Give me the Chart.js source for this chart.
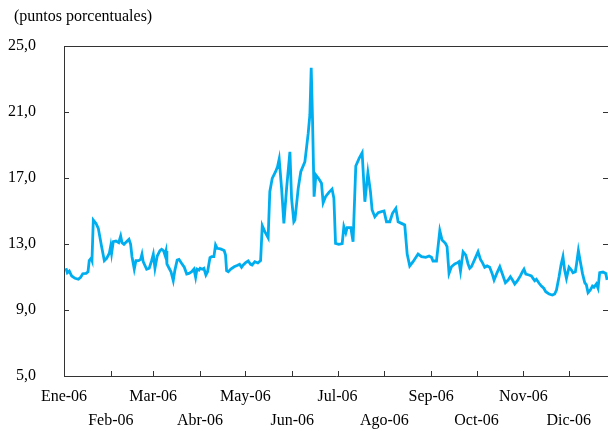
<!DOCTYPE html>
<html>
<head>
<meta charset="utf-8">
<script src="https://cdn.jsdelivr.net/npm/chart.js@4/dist/chart.umd.min.js"></script>
<style>
  html, body { margin: 0; padding: 0; background: #fff; }
  #wrap { width: 608px; height: 431px; position: relative; }
</style>
</head>
<body>
<div id="wrap"><canvas id="grafico"></canvas></div>
<script>
// Datos: día del año 2006 (0 = 1 de enero) y diferencial en puntos porcentuales
const dias = [1.3,2.2,3.5,5.1,7.3,9.5,11.0,12.4,14.6,15.9,
  16.7,17.9,18.5,19.4,21.2,22.7,24.9,26.7,28.2,30.0,
  30.9,31.5,32.6,34.4,36.2,37.5,38.4,39.7,41.0,43.0,
  44.1,45.0,46.5,47.6,49.4,50.7,51.6,52.4,54.7,56.4,
  58.0,59.1,60.2,61.7,63.5,64.6,65.9,66.8,67.5,68.1,
  69.4,70.8,72.3,73.4,74.9,76.1,77.8,79.6,81.2,82.7,
  84.5,86.0,87.1,88.0,89.3,90.1,91.5,92.6,93.9,95.0,
  96.6,97.7,99.2,100.3,101.4,103.6,106.0,106.9,107.6,108.7,
  110.4,112.6,114.9,116.2,117.5,118.6,120.2,121.9,123.5,124.5,
  126.3,128.3,130.1,131.2,132.9,135.1,136.2,137.8,140.0,141.3,
  142.4,144.0,145.5,147.3,149.5,150.6,152.1,152.8,155.0,156.7,
  159.4,161.6,162.7,163.6,164.5,165.5,166.7,168.7,170.4,171.5,
  173.1,175.3,177.4,178.6,179.7,181.9,184.1,185.2,186.5,187.4,
  189.8,191.3,193.1,195.3,197.3,199.1,201.1,202.8,203.9,205.7,
  207.9,210.1,211.8,213.4,215.6,217.4,219.6,221.1,223.3,225.5,
  227.1,228.8,231.0,234.3,236.6,239.4,241.6,243.2,244.2,246.5,
  248.7,250.2,252.4,253.5,254.8,256.4,258.6,260.4,261.4,262.4,
  264.1,265.9,267.4,268.5,269.6,271.8,274.0,275.6,276.9,278.4,
  280.0,281.7,283.3,284.6,286.4,288.4,290.1,292.1,293.9,295.4,
  296.8,298.3,300.1,302.1,303.4,304.4,305.6,307.7,309.3,310.4,
  311.5,312.6,314.4,315.9,317.5,318.8,321.0,323.2,324.7,325.9,
  327.6,328.9,330.2,331.3,332.5,334.2,335.8,336.8,338.4,339.1,
  340.4,341.7,343.1,344.6,345.7,346.8,348.3,349.7,350.7,352.3,
  353.4,354.5,356.7,358.5,359.4];

const diferencial = [11.53,11.26,11.36,11.06,10.92,10.86,10.98,11.2,11.22,11.32,
  11.99,12.13,11.99,14.45,14.25,13.95,12.84,11.99,12.13,12.44,
  12.88,12.44,13.14,13.18,13.08,13.48,13.08,12.98,13.1,13.28,
  12.98,12.23,11.48,11.99,11.99,12.07,12.38,11.93,11.47,11.53,
  11.99,12.38,11.53,12.27,12.6,12.68,12.58,12.33,12.58,11.79,
  11.56,11.32,10.78,11.42,12.03,12.07,11.83,11.59,11.18,11.22,
  11.32,11.48,10.98,11.48,11.42,11.53,11.47,11.53,11.12,11.32,
  12.17,12.23,12.23,12.94,12.74,12.7,12.6,12.33,11.38,11.32,
  11.48,11.62,11.71,11.77,11.59,11.73,11.87,11.97,11.77,11.73,
  11.93,11.85,12.0,14.11,13.75,13.38,16.17,16.98,17.38,17.68,
  18.15,16.37,14.25,16.37,18.59,15.77,14.35,14.45,16.37,17.38,
  17.98,19.7,20.82,23.68,20.41,15.87,17.18,16.94,16.68,15.5,
  15.87,16.13,16.33,15.77,13.04,12.98,13.02,14.05,13.68,13.99,
  13.99,13.14,17.73,18.19,18.53,15.56,17.32,16.17,15.06,14.65,
  14.9,14.96,15.0,14.35,14.35,14.86,15.16,14.35,14.25,14.15,
  12.39,11.67,11.93,12.39,12.23,12.19,12.27,12.19,11.97,11.97,
  13.81,13.24,13.04,12.84,11.22,11.62,11.79,11.87,11.93,11.36,
  12.53,12.33,11.79,11.53,11.62,12.07,12.53,12.07,11.87,11.59,
  11.67,11.59,11.22,10.82,11.22,11.62,11.18,10.66,10.82,11.02,
  10.82,10.58,10.78,11.08,11.32,11.47,11.18,11.12,11.06,10.92,
  10.78,10.86,10.62,10.45,10.32,10.11,9.97,9.91,9.97,10.21,
  11.02,11.73,12.23,11.42,10.92,11.59,11.42,11.26,11.32,11.73,
  12.6,11.93,11.22,10.66,10.52,10.05,10.21,10.45,10.38,10.58,
  10.32,11.26,11.3,11.22,10.82];

// Eje x: inicio de cada mes y su etiqueta
const inicioMes = [0, 31, 59, 90, 120, 151, 181, 212, 243, 273, 304, 334];
const meses = ['Ene-06','Feb-06','Mar-06','Abr-06','May-06','Jun-06',
  'Jul-06','Ago-06','Sep-06','Oct-06','Nov-06','Dic-06'];

// Eje y
const yTicks = [5, 9, 13, 17, 21, 25];

const tituloEje = '(puntos porcentuales)';
const colorEje = '#333333';
const fuente = 'Liberation Serif, Times New Roman, serif';

// Marcas hacia adentro, borde superior y título
const marcasPlugin = {
  id: 'marcas',
  afterDraw(chart) {
    const { ctx, chartArea, scales } = chart;
    const x = scales.x, y = scales.y;
    ctx.save();
    ctx.strokeStyle = colorEje;
    ctx.lineWidth = 1;
    ctx.beginPath();
    // borde superior
    ctx.moveTo(chartArea.left, chartArea.top + 0.5);
    ctx.lineTo(chartArea.right, chartArea.top + 0.5);
    // marcas eje y (izquierda y derecha)
    yTicks.forEach(v => {
      const py = Math.round(y.getPixelForValue(v)) + 0.5;
      if (v === yTicks[0] || v === yTicks[yTicks.length - 1]) return;
      ctx.moveTo(chartArea.left, py);
      ctx.lineTo(chartArea.left + 5, py);
      ctx.moveTo(chartArea.right - 5, py);
      ctx.lineTo(chartArea.right, py);
    });
    // marcas eje x
    inicioMes.forEach((d, i) => {
      if (i === 0) return;
      const px = Math.round(x.getPixelForValue(d)) + 0.5;
      ctx.moveTo(px, chartArea.bottom);
      ctx.lineTo(px, chartArea.bottom - 5);
    });
    ctx.stroke();

    ctx.fillStyle = '#000';
    ctx.font = '16px ' + fuente;
    ctx.textAlign = 'left';
    ctx.textBaseline = 'middle';
    ctx.fillText(tituloEje, 14, 17);
    ctx.restore();
  }
};

const puntos = dias.map((d, i) => ({ x: d, y: diferencial[i] }));

new Chart(document.getElementById('grafico'), {
  type: 'line',
  data: {
    datasets: [{
      data: puntos,
      borderColor: '#00AEEF',
      borderWidth: 2.8,
      pointRadius: 0,
      tension: 0,
      fill: false
    }]
  },
  options: {
    responsive: true,
    maintainAspectRatio: false,
    animation: false,
    layout: { padding: { top: 46, right: 0, left: 0, bottom: 0 } },
    plugins: {
      legend: { display: false },
      tooltip: { enabled: false }
    },
    scales: {
      x: {
        type: 'linear',
        min: 0,
        max: 360,
        grid: { display: false, drawTicks: false },
        border: { display: true, color: colorEje, width: 1 },
        afterBuildTicks: scale => {
          scale.ticks = inicioMes.map(v => ({ value: v }));
        },
        afterFit: scale => { scale.height = 55; },
        ticks: {
          autoSkip: false,
          maxRotation: 0,
          padding: 9,
          color: '#000',
          font: { family: fuente, size: 16, lineHeight: 1.5 },
          callback: (v, i) => i % 2 === 0 ? [meses[i], ''] : ['', meses[i]]
        }
      },
      y: {
        min: 5,
        max: 25,
        grid: { display: false, drawTicks: false },
        border: { display: true, color: colorEje, width: 1 },
        afterBuildTicks: scale => {
          scale.ticks = yTicks.map(v => ({ value: v }));
        },
        afterFit: scale => { scale.width = 64; },
        ticks: {
          padding: 28,
          color: '#000',
          font: { family: fuente, size: 16 },
          callback: v => v.toFixed(1).replace('.', ',')
        }
      }
    }
  },
  plugins: [marcasPlugin]
});
</script>
</body>
</html>
